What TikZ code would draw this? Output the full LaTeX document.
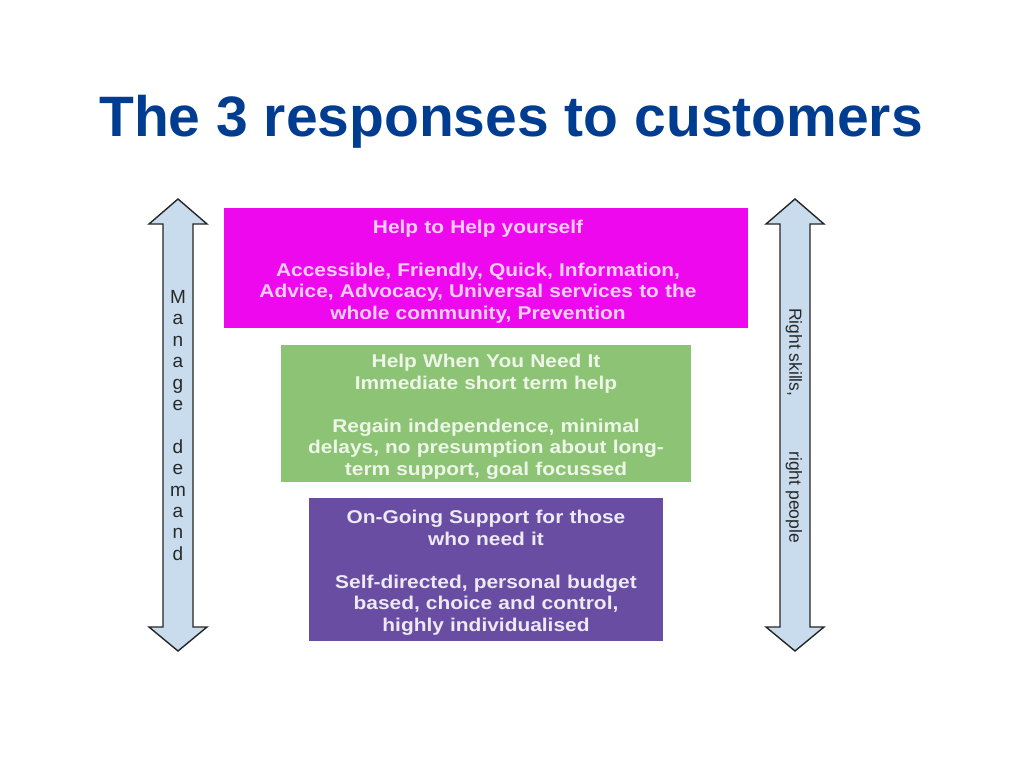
\documentclass[tikz,border=0pt]{standalone}
\usepackage{fontspec}
\setmainfont{Liberation Sans}
\newfontfamily\widefont[FakeStretch=1.13]{Liberation Sans}

\definecolor{titleblue}{RGB}{0,61,145}
\definecolor{arrowblue}{RGB}{200,220,238}
\definecolor{helpmag}{RGB}{238,8,238}
\definecolor{helpgreen}{RGB}{141,195,116}
\definecolor{helppurple}{RGB}{104,77,163}
\definecolor{labelgrey}{RGB}{40,40,40}

\tikzset{
  respbox/.style={minimum width=#1, inner sep=0pt},
  resptext/.style={text width=#1, align=center, inner sep=0pt,
    font=\widefont\bfseries\fontsize{18.5}{21.5}\selectfont,
    execute at begin node={\rule{0pt}{20pt}}},
  sidearrow/.style={draw=black!85, fill=arrowblue, line width=1.4pt, line join=miter},
}

\begin{document}
\begin{tikzpicture}[x=1pt, y=-1pt]
    \useasboundingbox[fill=white] (0,0) rectangle (1024,768) ;
    \node[anchor=base, text=titleblue, font=\bfseries\fontsize{57}{68}\selectfont] (title) at (511,136) {The 3 responses to customers} ;

    \foreach \x in {178,795}
      \draw[sidearrow] (\x,199) -- (\x+29,224) -- (\x+15,224) -- (\x+15,627) -- (\x+29,627) -- (\x,651)
        -- (\x-29,627) -- (\x-15,627) -- (\x-15,224) -- (\x-29,224) -- cycle ;

    \node[align=center, text=labelgrey, inner sep=0pt, font=\fontsize{19}{21.4}\selectfont] (demand) at (178,425.5)
      {M\\a\\n\\a\\g\\e\\[21.4pt]d\\e\\m\\a\\n\\d} ;
    \node[rotate=-90, text=labelgrey, inner sep=0pt, font=\fontsize{17.5}{20}\selectfont] (skills) at (794,425.5)
      {Right skills,\hspace{55pt}right people} ;

    \node[respbox=524pt, minimum height=120pt, fill=helpmag] (selfhelp) at (486,268) {} ;
    \node[resptext=510pt, text=white!80!helpmag] (selfhelp text) at ([xshift=-8pt]selfhelp.center)
      {Help to Help yourself\\[21.5pt]
       Accessible, Friendly, Quick, Information,\\
       Advice, Advocacy, Universal services to the\\
       whole community, Prevention} ;

    \node[respbox=410pt, minimum height=137pt, fill=helpgreen] (needit) at (486,413.5) {} ;
    \node[resptext=400pt, text=white!85!helpgreen] (needit text) at (needit.center)
      {Help When You Need It\\
       Immediate short term help\\[21.5pt]
       Regain independence, minimal\\
       delays, no presumption about long-\\
       term support, goal focussed} ;

    \node[respbox=354pt, minimum height=143pt, fill=helppurple] (ongoing) at (486,569.5) {} ;
    \node[resptext=344pt, text=white!88!helppurple] (ongoing text) at (ongoing.center)
      {On-Going Support for those\\
       who need it\\[21.5pt]
       Self-directed, personal budget\\
       based, choice and control,\\
       highly individualised} ;
  \end{tikzpicture}
\end{document}
